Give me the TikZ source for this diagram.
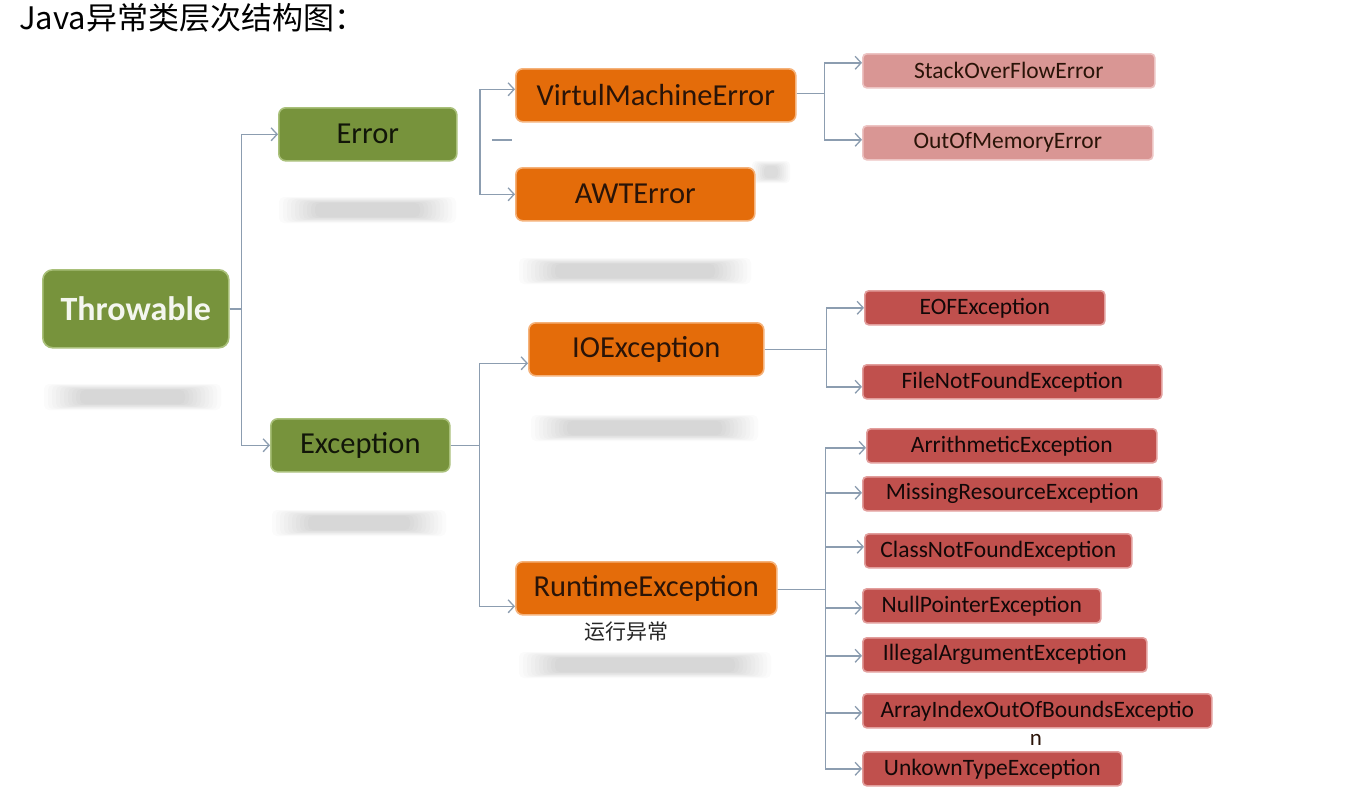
\documentclass[tikz,border=0pt]{standalone}
\usepackage{fontspec}
\setmainfont{Carlito}
\newfontfamily\cjk{Noto Sans CJK SC}
\usetikzlibrary{arrows.meta}
\definecolor{grn}{HTML}{77933C}
\definecolor{grnedge}{HTML}{A9C07A}
\definecolor{org}{HTML}{E46C0A}
\definecolor{orgedge}{HTML}{F5B27A}
\definecolor{pnk}{HTML}{D99694}
\definecolor{pnkedge}{HTML}{EDC4C3}
\definecolor{rd}{HTML}{C0504D}
\definecolor{rdedge}{HTML}{E29E9C}
\definecolor{conncol}{HTML}{8C9DB0}
\definecolor{darktxt}{HTML}{2A1408}
\newcommand\softbar[3]{%
  \foreach \k in {0,...,9}{%
    \fill[black, opacity=0.017, rounded corners=5pt] (#1-6+4*\k, #3-13+0.65*\k) rectangle (#2+6-4*\k, #3+13-0.65*\k);}}
\begin{document}
\begin{tikzpicture}[x=1pt,y=-1pt,
  base/.style={anchor=north west, inner sep=0pt, line width=1.6pt},
  bigbox/.style={base, rounded corners=7pt, minimum height=53pt, font=\fontsize{30.5}{34}\selectfont},
  gbox/.style={bigbox, fill=grn, draw=grnedge, text=black!85!grn},
  obox/.style={bigbox, fill=org, draw=orgedge, text=darktxt},
  smallbox/.style={base, rounded corners=4pt, minimum height=34pt, font=\fontsize{23.5}{27}\selectfont},
  pbox/.style={smallbox, fill=pnk, draw=pnkedge, text=darktxt},
  rbox/.style={smallbox, fill=rd, draw=rdedge, text=black!90!rd},
  conn/.style={draw=conncol, line width=1.5pt},
  arr/.style={conn, -{Straight Barb[length=6pt, width=13pt, line width=1.3pt]}}
]
\useasboundingbox[fill=white] (0,0) rectangle (1368,798);

% soft reflections
\softbar{50}{215}{397}
\softbar{285}{450}{210}
\softbar{278}{440}{523}
\softbar{525}{745}{271}
\softbar{537}{752}{428}
\softbar{525}{765}{665}
\foreach \k in {0,...,6}{\fill[black, opacity=0.02, rounded corners=4pt] (752+2*\k, 161+0.8*\k) rectangle (790-2*\k, 183-0.8*\k);}

% title
\node[anchor=west, inner sep=0pt, font=\cjk\fontsize{31}{35}\selectfont] (title) at (19,18) {Java异常类层次结构图：};

% level 0/1
\node[gbox, minimum width=186pt, minimum height=78pt, rounded corners=10pt, text=white!92!grn, font=\bfseries\fontsize{34}{38}\selectfont] (thr) at (42,269) {Throwable};
\node[gbox, minimum width=178pt] (err) at (278,107) {Error};
\node[gbox, minimum width=179pt] (exc) at (270,418) {Exception};

% level 2
\node[obox, minimum width=280pt] (vme) at (515,68) {VirtulMachineError};
\node[obox, minimum width=239pt] (awt) at (515,167) {AWTError};
\node[obox, minimum width=235pt] (io) at (528,322) {IOException};
\node[obox, minimum width=261pt] (rt) at (515,561) {RuntimeException};
\node[inner sep=0pt, font=\cjk\fontsize{21}{24}\selectfont, text=black!85] (rtlabel) at (626,632) {运行异常};

% level 3
\node[pbox, minimum width=292pt] (sof) at (862,53) {StackOverFlowError};
\node[pbox, minimum width=290pt] (oom) at (862,125) {OutOfMemoryError};
\node[rbox, minimum width=240pt] (eof) at (864,290) {EOFException};
\node[rbox, minimum width=299pt] (fnf) at (862,364) {FileNotFoundException};
\node[rbox, minimum width=290pt] (ari) at (866,428) {ArrithmeticException};
\node[rbox, minimum width=299pt] (mis) at (862,476) {MissingResourceException};
\node[rbox, minimum width=267pt] (cnf) at (864,533) {ClassNotFoundException};
\node[rbox, minimum width=238pt] (npe) at (862,588) {NullPointerException};
\node[rbox, minimum width=284pt] (iae) at (862,637) {IllegalArgumentException};
\node[rbox, minimum width=349pt] (aio) at (862,693) {ArrayIndexOutOfBoundsExceptio};
\node[inner sep=0pt, font=\fontsize{23}{26}\selectfont, text=darktxt] (nlabel) at (1036,740) {n};
\node[rbox, minimum width=259pt] (ute) at (862,751) {UnkownTypeException};

% connectors: Throwable
\draw[arr] (thr.east) -- ++(12,0) |- (err.west);
\draw[arr] (thr.east) -- ++(12,0) |- (exc.west);

% Error group (not joined to Error)
\coordinate (ej) at (480,140);
\draw[arr] (ej) |- ([yshift=6pt]vme.west);
\draw[arr] (ej) |- ([yshift=0pt]awt.west);
\draw[conn] (492,140) -- (512,140);

% Exception group
\draw[arr] (exc.east) -- ++(29,0) |- ([yshift=-14pt]io.west);
\draw[arr] (exc.east) -- ++(29,0) |- ([yshift=-18pt]rt.west);

% VirtulMachineError group
\draw[arr] ([yshift=2pt]vme.east) -- ++(28,0) |- ([yshift=8pt]sof.west);
\draw[arr] ([yshift=2pt]vme.east) -- ++(28,0) |- ([yshift=3pt]oom.west);

% IOException group
\draw[arr] (io.east) -- ++(62,0) |- (eof.west);
\draw[arr] (io.east) -- ++(62,0) |- ([yshift=-5pt]fnf.west);

% RuntimeException group
\foreach \t/\s in {ari/-2pt, mis/1pt, cnf/4pt, npe/-2pt, iae/-1pt, aio/-2pt, ute/0pt}{
  \draw[arr] ([yshift=-1pt]rt.east) -- ++(48,0) |- ([yshift=\s]\t.west);
}
\end{tikzpicture}
\end{document}
